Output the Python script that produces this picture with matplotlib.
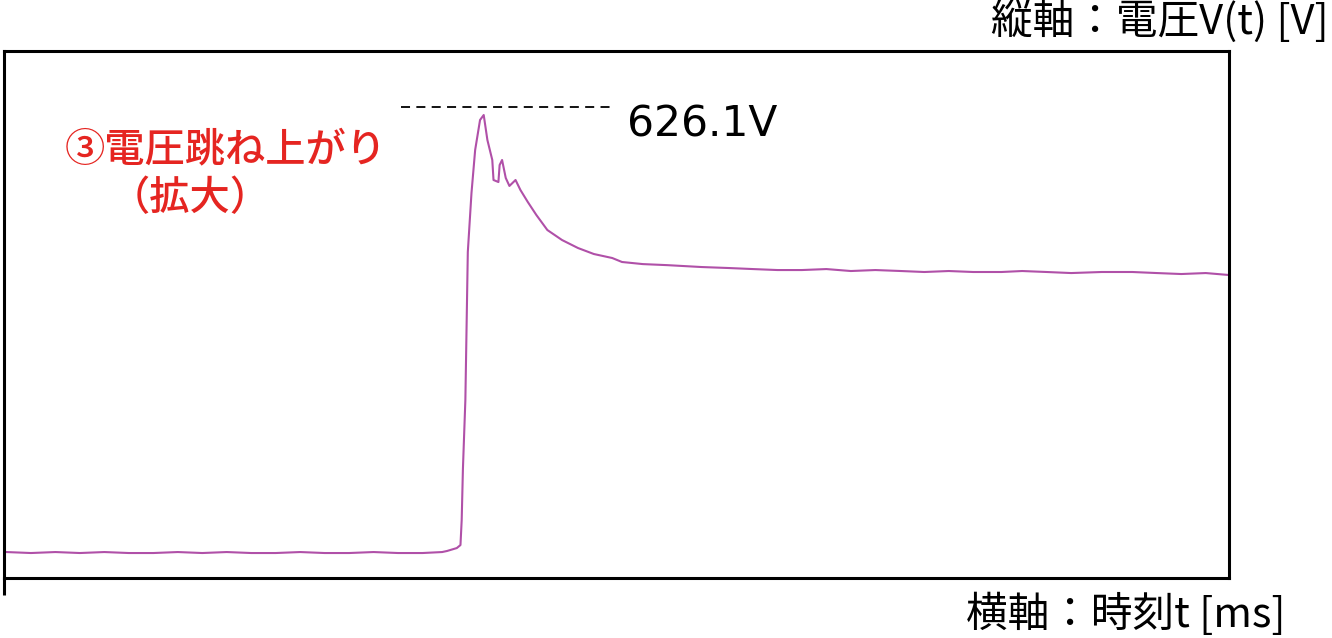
import matplotlib
matplotlib.use("Agg")
import matplotlib.pyplot as plt

plt.rcParams['font.family'] = ['Noto Sans CJK JP', 'DejaVu Sans']

# time [ms] and voltage [V]
t_ms = [0.00, 0.20, 0.40, 0.60, 0.80, 1.00, 1.20, 1.40, 1.60, 1.80,
        2.00, 2.20, 2.40, 2.60, 2.80, 3.00, 3.20, 3.40, 3.56, 3.60,
        3.68, 3.71, 3.72, 3.73, 3.75, 3.77, 3.80, 3.83, 3.87, 3.90,
        3.93, 3.97, 3.98, 4.02, 4.03, 4.05, 4.08, 4.11, 4.16, 4.20,
        4.26, 4.33, 4.42, 4.54, 4.67, 4.80, 4.95, 5.03, 5.20, 5.40,
        5.68, 5.90, 6.10, 6.30, 6.50, 6.70, 6.90, 7.10, 7.31, 7.50,
        7.70, 7.90, 8.13, 8.30, 8.50, 8.70, 8.95, 9.20, 9.40, 9.60,
        9.80, 9.99]
volt = [1.4, 0.0, 1.4, 0.0, 1.4, 0.0, 0.0, 1.4, 0.0, 1.4,
        0.0, 0.0, 1.4, 0.0, 0.0, 1.4, 0.0, 0.0, 1.4, 2.9,
        7.1, 11.4, 47.2, 120.0, 218.7, 430.3, 514.6, 576.1, 619.0, 626.1,
        590.4, 561.8, 533.2, 530.3, 554.6, 561.8, 536.1, 524.7, 533.2, 518.9,
        501.8, 483.2, 461.7, 447.4, 436.0, 427.4, 421.7, 416.0, 413.0, 411.5,
        408.8, 407.4, 405.9, 404.5, 404.5, 405.9, 403.1, 404.5, 403.1, 401.7,
        403.1, 401.7, 401.7, 403.1, 401.7, 400.2, 401.7, 401.7, 400.2, 398.8,
        400.2, 397.4]

peak_v = 626.1
peak_label = "626.1V"
note_lines = ["③電圧跳ね上がり", "（拡大）"]
y_label = "縦軸：電圧V(t) [V]"
x_label = "横軸：時刻t [ms]"

fig = plt.figure(figsize=(13.32, 6.38), dpi=100)
ax = fig.add_axes([4 / 1332, 1 - 578 / 638, 1225 / 1332, 527 / 638])

ax.plot(t_ms, volt, color='#b050a8', lw=1.5)
ax.set_xlim(-0.02, 9.99)
ax.set_ylim(-35.7, 717.6)
ax.set_xticks([])
ax.set_yticks([])
for s in ax.spines.values():
    s.set_linewidth(2.2)
    s.set_color('black')

# left spine sticks out below the frame
ax.plot([0, 0], [0, -0.032], transform=ax.transAxes, color='black',
        lw=2.2, clip_on=False, solid_capstyle='butt')

# peak marker
ax.plot([3.22, 4.93], [637.0, 637.0], color='black', lw=1.3,
        linestyle=(0, (5, 3.5)))
ax.text(5.07, 612, peak_label, fontsize=30.5, va='center', ha='left',
        family=['DejaVu Sans'])

ax.text(0.48, 576, note_lines[0], color='#e52521', fontsize=29,
        fontweight='medium', va='center', ha='left')
ax.text(0.84, 506, note_lines[1], color='#e52521', fontsize=29,
        fontweight='medium', va='center', ha='left')

fig.text(1329 / 1332, 1 - 22 / 638, y_label, fontsize=30, ha='right', va='center')
fig.text(1286 / 1332, 1 - 614 / 638, x_label, fontsize=30, ha='right', va='center')

fig.savefig("out.png", dpi=100)
